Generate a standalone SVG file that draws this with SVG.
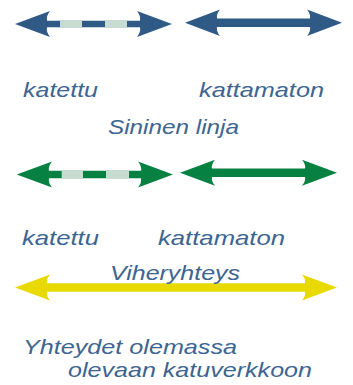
<svg xmlns="http://www.w3.org/2000/svg" width="353" height="385" viewBox="0 0 353 385">
<style>
.t{font-family:"Liberation Sans",Arial,sans-serif;font-style:italic;font-size:21px;fill:#3d6592}
.blue{fill:#2f5a85}
.green{fill:#078142}
.yellow{fill:#e8da00}
.light{fill:#c8dbd0}
</style>
<rect width="353" height="385" fill="#ffffff"/>
<g id="arrow-blue-katettu">
<path class="blue" d="M15,24 L50,11 Q46,16 47,20.7 L140,20.7 Q141,16 137,11 L172,24 L137,37 Q141,32 140,27.3 L47,27.3 Q46,32 50,37 Z"/>
<rect class="light" x="60" y="20.7" width="22" height="6.6"/>
<rect class="light" x="105" y="20.7" width="22" height="6.6"/>
</g>
<g id="arrow-blue-kattamaton">
<path class="blue" d="M185,22.7 L220,9.5 Q216,14.5 217,18.5 L310,18.5 Q311,14.5 307,9.5 L342,22.7 L307,36 Q311,31 310,26.9 L217,26.9 Q216,31 220,36 Z"/>
</g>
<g id="arrow-green-katettu">
<path class="green" d="M16.7,174.5 L52,161.5 Q48,166.5 49,170.7 L141,170.7 Q142,166.5 138,161.5 L173,174.5 L138,187.5 Q142,182.5 141,178.3 L49,178.3 Q48,182.5 52,187.5 Z"/>
<rect class="light" x="61.7" y="170.7" width="21.3" height="7.6"/>
<rect class="light" x="106" y="170.7" width="23" height="7.6"/>
</g>
<g id="arrow-green-kattamaton">
<path class="green" d="M180,172.7 L215,159.7 Q211,164.5 212,168.5 L305,168.5 Q306,164.5 302,159.7 L337,172.7 L302,185.7 Q306,181 305,176.9 L212,176.9 Q211,181 215,185.7 Z"/>
</g>
<g id="arrow-yellow">
<path class="yellow" d="M15,287.5 L50,274.5 Q46,279.3 47,283.3 L305,283.3 Q306,279.3 302,274.5 L337,287.5 L302,300.5 Q306,295.7 305,291.7 L47,291.7 Q46,295.7 50,300.5 Z"/>
</g>
<g id="labels">
<text class="t" x="23" y="97" textLength="75" lengthAdjust="spacingAndGlyphs">katettu</text>
<text class="t" x="199" y="97" textLength="125" lengthAdjust="spacingAndGlyphs">kattamaton</text>
<text class="t" x="108" y="134" textLength="131" lengthAdjust="spacingAndGlyphs">Sininen linja</text>
<text class="t" x="22" y="245" textLength="77" lengthAdjust="spacingAndGlyphs">katettu</text>
<text class="t" x="158" y="245" textLength="127" lengthAdjust="spacingAndGlyphs">kattamaton</text>
<text class="t" x="110" y="280" textLength="130" lengthAdjust="spacingAndGlyphs">Viheryhteys</text>
<text class="t" x="23" y="354" textLength="214" lengthAdjust="spacingAndGlyphs">Yhteydet olemassa</text>
<text class="t" x="68" y="377" textLength="244" lengthAdjust="spacingAndGlyphs">olevaan katuverkkoon</text>
</g>
</svg>
